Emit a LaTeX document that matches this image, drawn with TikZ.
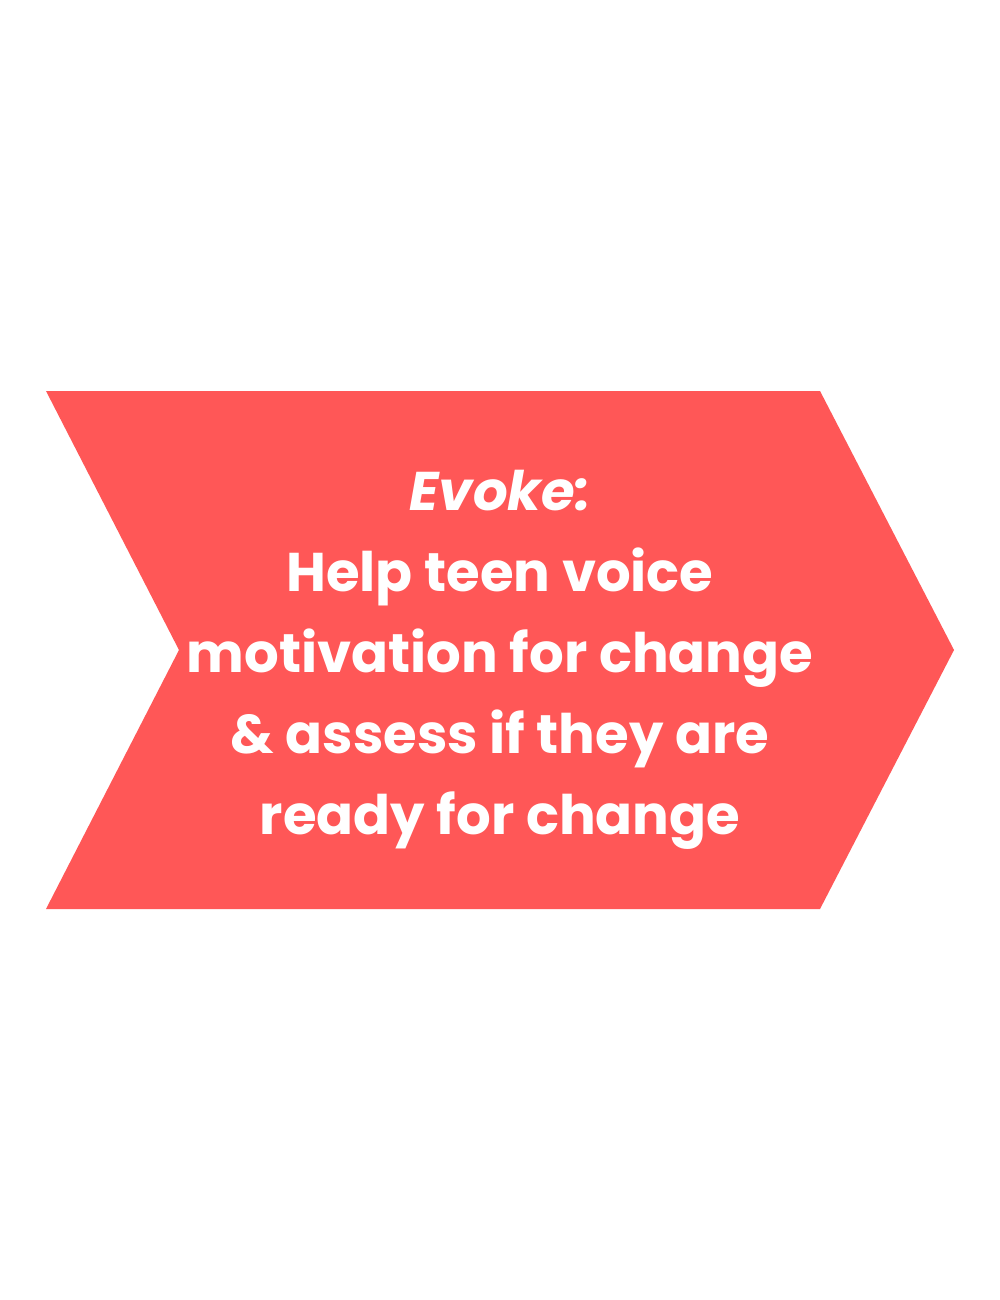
\documentclass[tikz,border=0pt]{standalone}
\usepackage{fontspec}
\setmainfont{Poppins}
\definecolor{chev}{HTML}{FF5757}
\begin{document}
\begin{tikzpicture}[x=1pt,y=-1pt]
\tikzset{chevtext/.style={text=white,font=\fontsize{54.5}{81}\selectfont\bfseries,align=center,inner sep=0pt}}
\useasboundingbox (0,0) rectangle (1000,1300);
\fill[white] (0,0) rectangle (1000,1300);
\fill[chev] (46,391) -- (820,391) -- (954,650) -- (820,909) -- (46,909) -- (179,650) -- cycle;
\node[chevtext] (t) at (500,660) {\itshape Evoke:\\Help teen voice\\motivation for change\\\& assess if they are\\ready for change};
\end{tikzpicture}
\end{document}
